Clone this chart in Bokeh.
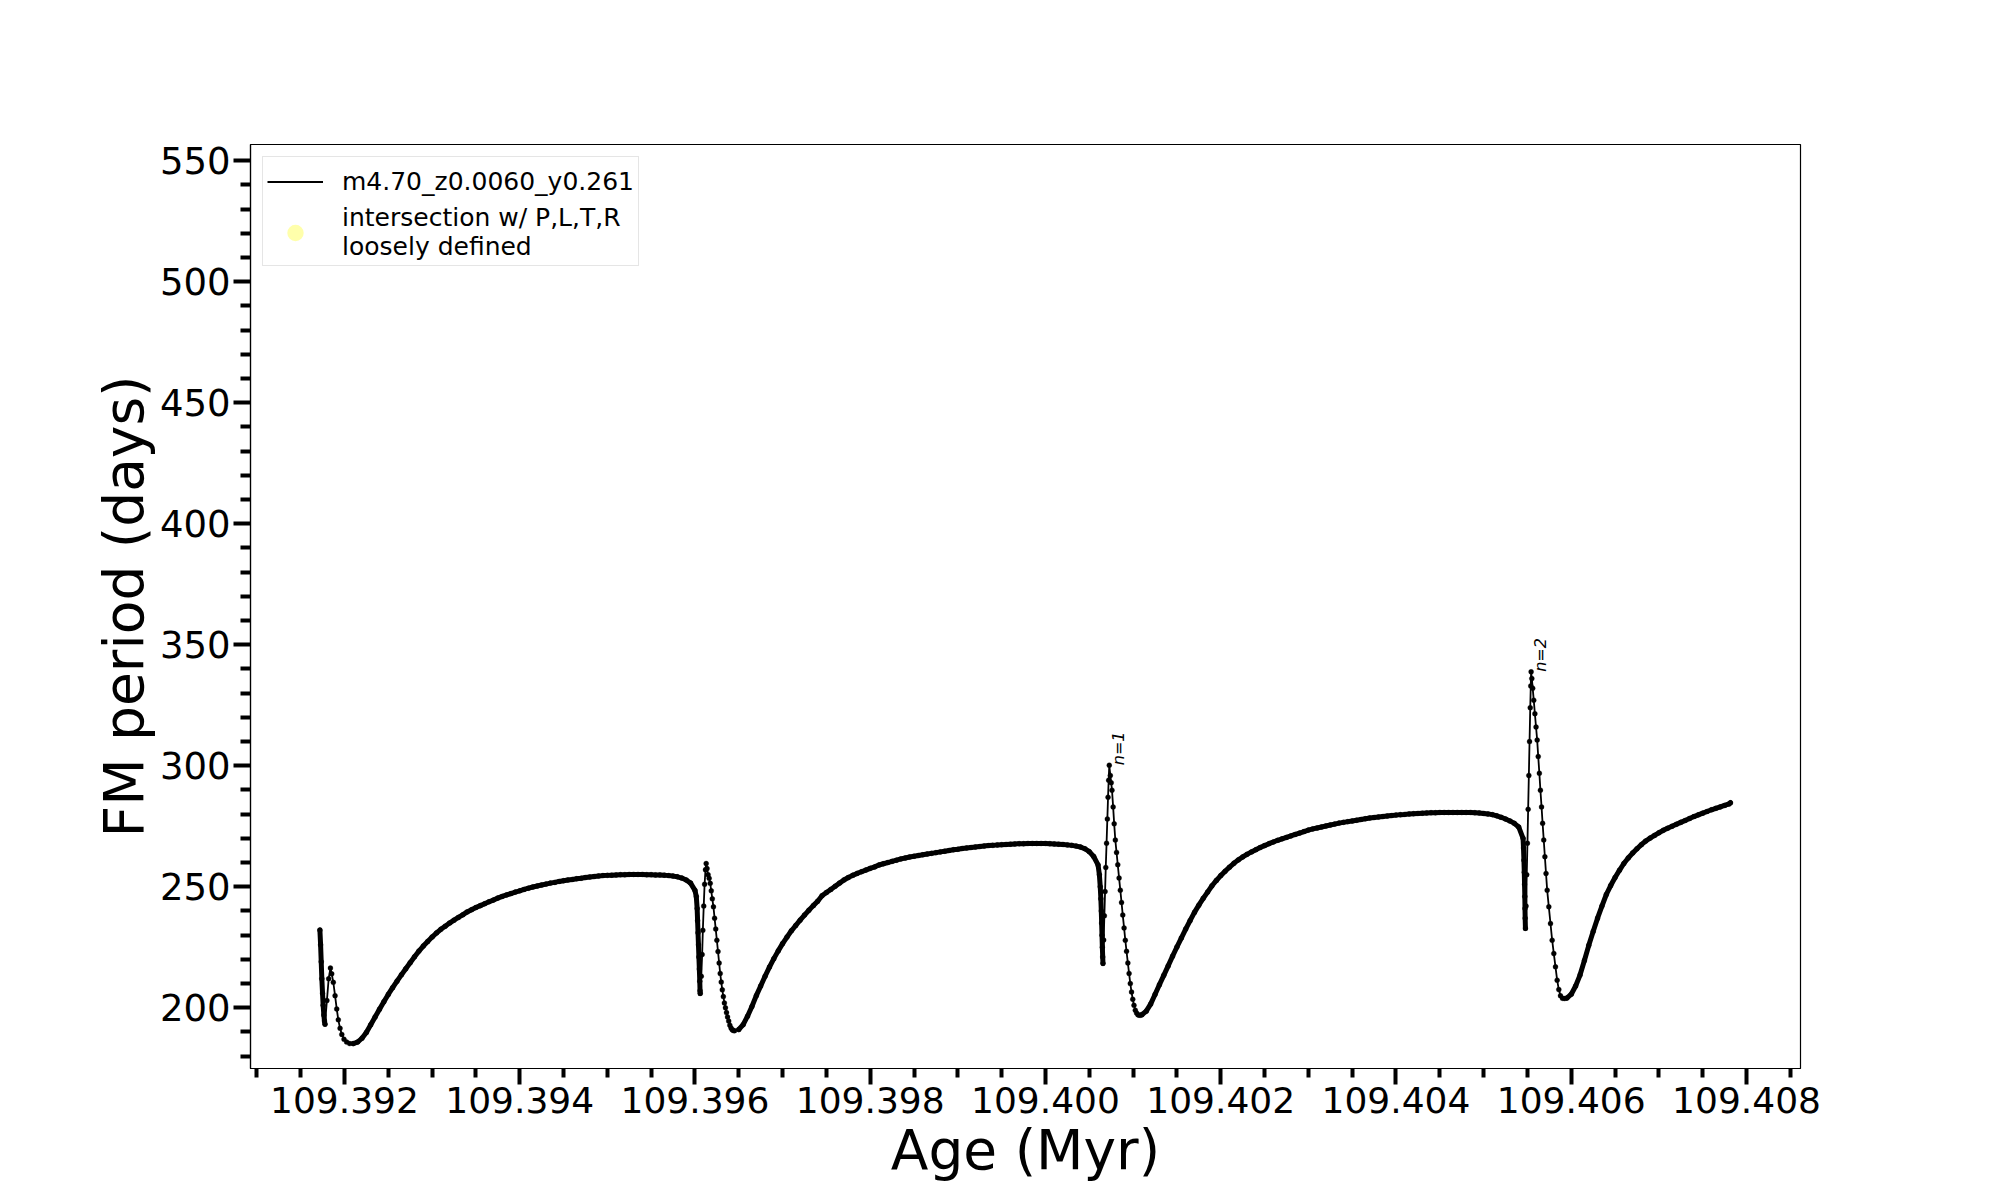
import math
from bokeh.plotting import figure
from bokeh.models import Range1d, FixedTicker, NumeralTickFormatter, Legend, LegendItem, ColumnDataSource
from bokeh.embed import file_html
from bokeh.resources import INLINE
from bokeh.core.properties import value

# ---------------- data: (age in Myr, FM period in days) ----------------
# quiescent (densely sampled) branches and fast pulse phases, in time order
branch_1 = [
    (109.391720, 232.1), (109.391728, 226.0), (109.391735, 219.0), (109.391742, 212.0), (109.391750, 206.0),
    (109.391757, 201.0), (109.391765, 197.0), (109.391772, 194.5), (109.391778, 193.2),
]
pulse_1 = [
    (109.391800, 203.0), (109.391820, 212.0), (109.391840, 216.4),
    (109.391855, 214.0), (109.391873, 210.5), (109.391893, 205.0), (109.391912, 199.5), (109.391930, 195.0),
    (109.391950, 191.5), (109.391970, 189.0), (109.391995, 187.0), (109.392025, 185.8), (109.392060, 185.2),
]
branch_2 = [
    (109.39210, 185.2), (109.39215, 185.8), (109.39220, 187.4), (109.39225, 189.8), (109.39230, 193.0),
    (109.39235, 196.2), (109.39240, 199.4), (109.39245, 202.5), (109.39250, 205.5), (109.39255, 208.3),
    (109.39260, 211.0), (109.39265, 213.6), (109.39270, 216.1), (109.39275, 218.6), (109.39280, 221.1),
    (109.39285, 223.4), (109.39290, 225.5), (109.39295, 227.4), (109.39300, 229.2), (109.39305, 230.9),
    (109.39310, 232.4), (109.39315, 233.7), (109.39320, 235.0), (109.39325, 236.2), (109.39330, 237.3),
    (109.39335, 238.4), (109.39340, 239.6), (109.39345, 240.5), (109.39350, 241.4), (109.39355, 242.2),
    (109.39360, 243.0), (109.39365, 243.8), (109.39370, 244.5), (109.39375, 245.3), (109.39380, 246.0),
    (109.39385, 246.6), (109.39390, 247.2), (109.39395, 247.8), (109.39400, 248.3), (109.39405, 248.9),
    (109.39410, 249.4), (109.39415, 249.9), (109.39420, 250.3), (109.39425, 250.7), (109.39430, 251.1),
    (109.39435, 251.5), (109.39440, 251.8), (109.39445, 252.2), (109.39450, 252.5), (109.39455, 252.8),
    (109.39460, 253.0), (109.39465, 253.3), (109.39470, 253.5), (109.39475, 253.8), (109.39480, 254.0),
    (109.39485, 254.2), (109.39490, 254.4), (109.39495, 254.6), (109.39500, 254.7), (109.39505, 254.8),
    (109.39510, 254.9), (109.39515, 255.0), (109.39520, 255.0), (109.39525, 255.1), (109.39530, 255.1),
    (109.39535, 255.1), (109.39540, 255.1), (109.39545, 255.0), (109.39550, 255.0), (109.39555, 254.9),
    (109.39560, 254.9), (109.39565, 254.8), (109.39570, 254.6), (109.39575, 254.4), (109.39580, 254.1),
    (109.39585, 253.6), (109.39590, 252.8), (109.39595, 251.5), (109.39600, 248.5),
    (109.396015, 246.0), (109.396025, 241.0), (109.396030, 236.0), (109.396035, 231.0), (109.396040, 226.0),
    (109.396045, 221.0), (109.396050, 216.0), (109.396055, 211.0), (109.396058, 207.0), (109.396060, 205.9),
]
pulse_2 = [
    (109.396072, 213.0), (109.396082, 222.0), (109.396090, 232.0), (109.396100, 242.0), (109.396110, 251.0),
    (109.396120, 257.0), (109.396128, 259.6),
    (109.396138, 257.5), (109.396150, 255.0), (109.396162, 253.5), (109.396174, 251.4), (109.396186, 248.3),
    (109.396198, 245.0), (109.396211, 241.7), (109.396224, 237.0), (109.396237, 232.5), (109.396250, 227.9),
    (109.396263, 223.2), (109.396276, 218.5), (109.396288, 214.2), (109.396300, 210.6), (109.396312, 207.4),
    (109.396324, 204.6), (109.396336, 202.0), (109.396348, 200.0), (109.396360, 198.0), (109.396372, 196.2),
    (109.396385, 194.5), (109.396398, 192.8), (109.396412, 191.6), (109.396425, 190.9), (109.396438, 190.6),
    (109.396451, 190.5),
]
branch_3 = [
    (109.39650, 191.0), (109.39655, 193.0), (109.39660, 196.5), (109.39665, 200.5), (109.39670, 205.0),
    (109.39675, 209.0), (109.39680, 213.0), (109.39685, 216.8), (109.39690, 220.3), (109.39695, 223.5),
    (109.39700, 226.5), (109.39705, 229.2), (109.39710, 231.8), (109.39715, 234.0), (109.39720, 236.2),
    (109.39725, 238.3), (109.39730, 240.3), (109.39735, 242.2), (109.39740, 244.0), (109.39745, 246.3),
    (109.39750, 247.6), (109.39755, 248.9), (109.39760, 250.2), (109.39765, 251.5), (109.39770, 252.8),
    (109.39775, 253.8), (109.39780, 254.7), (109.39785, 255.5), (109.39790, 256.2), (109.39795, 256.9),
    (109.39800, 257.6), (109.39805, 258.2), (109.39810, 259.0), (109.39815, 259.5), (109.39820, 260.0),
    (109.39825, 260.5), (109.39830, 261.0), (109.39835, 261.5), (109.39840, 261.9), (109.39845, 262.3),
    (109.39850, 262.6), (109.39855, 262.9), (109.39860, 263.2), (109.39865, 263.5), (109.39870, 263.8),
    (109.39875, 264.1), (109.39880, 264.4), (109.39885, 264.7), (109.39890, 265.0), (109.39895, 265.3),
    (109.39900, 265.5), (109.39905, 265.8), (109.39910, 266.0), (109.39915, 266.2), (109.39920, 266.4),
    (109.39925, 266.6), (109.39930, 266.8), (109.39935, 267.0), (109.39940, 267.1), (109.39945, 267.3),
    (109.39950, 267.4), (109.39955, 267.5), (109.39960, 267.6), (109.39965, 267.7), (109.39970, 267.8),
    (109.39975, 267.8), (109.39980, 267.9), (109.39985, 267.9), (109.39990, 267.9), (109.39995, 267.9),
    (109.40000, 267.9), (109.40005, 267.8), (109.40010, 267.7), (109.40015, 267.6), (109.40020, 267.5),
    (109.40025, 267.3), (109.40030, 267.1), (109.40035, 266.8), (109.40040, 266.4), (109.40045, 265.7),
    (109.40050, 264.5), (109.40055, 262.5), (109.40060, 259.0),
    (109.400615, 255.0), (109.400625, 250.0), (109.400632, 245.0), (109.400637, 240.0), (109.400641, 235.0),
    (109.400645, 230.0), (109.400649, 225.0), (109.400653, 221.0), (109.400656, 218.3),
]
pulse_3 = [
    (109.400664, 228.0), (109.400672, 238.0), (109.400680, 248.0), (109.400688, 258.0), (109.400697, 268.0),
    (109.400706, 278.0), (109.400714, 287.0), (109.400721, 294.0), (109.400728, 300.2),
    (109.400740, 296.0), (109.400750, 293.0), (109.400759, 289.9), (109.400772, 283.0), (109.400784, 276.0),
    (109.400797, 269.3), (109.400811, 264.2), (109.400825, 259.1), (109.400840, 253.6), (109.400854, 248.6),
    (109.400868, 243.5), (109.400882, 238.3), (109.400897, 233.0), (109.400911, 227.9), (109.400925, 223.3),
    (109.400940, 218.5), (109.400954, 214.2), (109.400968, 210.0), (109.400982, 206.5), (109.400996, 203.5),
    (109.401010, 201.0), (109.401025, 199.0), (109.401040, 197.8), (109.401055, 197.1), (109.401068, 196.9),
    (109.401082, 196.9),
]
branch_4 = [
    (109.40110, 197.1), (109.40115, 198.6), (109.40120, 201.5), (109.40125, 205.5), (109.40130, 209.5),
    (109.40135, 213.4), (109.40140, 217.3), (109.40145, 221.3), (109.40150, 225.1), (109.40155, 228.8),
    (109.40160, 232.5), (109.40165, 236.0), (109.40170, 239.4), (109.40175, 242.4), (109.40180, 245.2),
    (109.40185, 247.8), (109.40190, 250.4), (109.40195, 252.6), (109.40200, 254.6), (109.40205, 256.4),
    (109.40210, 258.1), (109.40215, 259.7), (109.40220, 261.1), (109.40225, 262.3), (109.40230, 263.4),
    (109.40235, 264.4), (109.40240, 265.3), (109.40245, 266.2), (109.40250, 267.0), (109.40255, 267.8),
    (109.40260, 268.5), (109.40265, 269.2), (109.40270, 269.8), (109.40275, 270.4), (109.40280, 271.0),
    (109.40285, 271.6), (109.40290, 272.2), (109.40295, 272.8), (109.40300, 273.4), (109.40305, 273.9),
    (109.40310, 274.3), (109.40315, 274.7), (109.40320, 275.1), (109.40325, 275.5), (109.40330, 275.9),
    (109.40335, 276.3), (109.40340, 276.6), (109.40345, 276.9), (109.40350, 277.2), (109.40355, 277.5),
    (109.40360, 277.8), (109.40365, 278.1), (109.40370, 278.4), (109.40375, 278.6), (109.40380, 278.8),
    (109.40385, 279.0), (109.40390, 279.2), (109.40395, 279.4), (109.40400, 279.6), (109.40405, 279.8),
    (109.40410, 279.9), (109.40415, 280.1), (109.40420, 280.2), (109.40425, 280.3), (109.40430, 280.4),
    (109.40435, 280.5), (109.40440, 280.6), (109.40445, 280.6), (109.40450, 280.7), (109.40455, 280.7),
    (109.40460, 280.7), (109.40465, 280.7), (109.40470, 280.7), (109.40475, 280.7), (109.40480, 280.7),
    (109.40485, 280.7), (109.40490, 280.6), (109.40495, 280.5), (109.40500, 280.3), (109.40505, 280.1),
    (109.40510, 279.8), (109.40515, 279.3), (109.40520, 278.7), (109.40525, 278.0), (109.40530, 277.2),
    (109.40535, 276.2), (109.40540, 274.7), (109.40545, 270.0),
    (109.405455, 266.0), (109.405460, 261.0), (109.405464, 256.0), (109.405467, 251.0), (109.405470, 246.0),
    (109.405472, 241.0), (109.405474, 237.0), (109.405477, 232.8),
]
pulse_4 = [
    (109.405484, 242.0), (109.405492, 255.0), (109.405500, 268.0), (109.405508, 282.0), (109.405516, 296.0),
    (109.405524, 310.0), (109.405532, 324.0), (109.405538, 333.0), (109.405542, 338.8),
    (109.405550, 336.0), (109.405560, 332.0), (109.405572, 327.1), (109.405585, 321.5), (109.405598, 316.0),
    (109.405611, 310.6), (109.405623, 303.8), (109.405636, 296.9), (109.405648, 289.9), (109.405661, 283.0),
    (109.405673, 276.2), (109.405686, 269.3), (109.405699, 262.4), (109.405712, 255.5), (109.405725, 248.6),
    (109.405744, 241.7), (109.405763, 234.8), (109.405782, 227.9), (109.405801, 222.4), (109.405820, 216.9),
    (109.405839, 211.4), (109.405858, 207.5), (109.405877, 205.0), (109.405900, 203.9), (109.405923, 203.8),
]
branch_5 = [
    (109.40595, 204.0), (109.40600, 205.6), (109.40605, 209.0), (109.40610, 213.5), (109.40615, 219.5),
    (109.40620, 225.8), (109.40625, 231.5), (109.40630, 237.0), (109.40635, 242.0), (109.40640, 246.8),
    (109.40645, 250.5), (109.40650, 253.8), (109.40655, 256.8), (109.40660, 259.6), (109.40665, 261.9),
    (109.40670, 263.9), (109.40675, 265.7), (109.40680, 267.4), (109.40685, 268.9), (109.40690, 270.1),
    (109.40695, 271.2), (109.40700, 272.3), (109.40705, 273.3), (109.40710, 274.2), (109.40715, 275.0),
    (109.40720, 275.8), (109.40725, 276.6), (109.40730, 277.4), (109.40735, 278.2), (109.40740, 279.0),
    (109.40745, 279.7), (109.40750, 280.4), (109.40755, 281.1), (109.40760, 281.8), (109.40765, 282.4),
    (109.40770, 283.0), (109.40775, 283.6), (109.40780, 284.2), (109.407817, 284.7),
]

# intersection points: none fall inside this window (NaN = nothing drawn, legend only)
intersection_age = [float("nan")]
intersection_fm = [float("nan")]

# pulse annotations
pulse_age = [109.400728, 109.405542]
pulse_fm = [300.2, 338.8]
pulse_label = ["n=1", "n=2"]

series_label = "m4.70_z0.0060_y0.261"
intersection_label = "intersection w/ P,L,T,R\nloosely defined"

x_major_ticks = [109.392, 109.394, 109.396, 109.398, 109.400, 109.402, 109.404, 109.406, 109.408]
x_minor_ticks = [109.391, 109.3915, 109.3925, 109.393, 109.3935, 109.3945, 109.395, 109.3955,
                 109.3965, 109.397, 109.3975, 109.3985, 109.399, 109.3995, 109.4005, 109.401,
                 109.4015, 109.4025, 109.403, 109.4035, 109.4045, 109.405, 109.4055, 109.4065,
                 109.407, 109.4075, 109.4085]
y_major_ticks = [200, 250, 300, 350, 400, 450, 500, 550]
y_minor_ticks = [180, 190, 210, 220, 230, 240, 260, 270, 280, 290, 310, 320, 330, 340,
                 360, 370, 380, 390, 410, 420, 430, 440, 460, 470, 480, 490, 510, 520,
                 530, 540]

# ---------------- figure ----------------
branches = [branch_1, branch_2, branch_3, branch_4, branch_5]
points = (branch_1 + pulse_1 + branch_2 + pulse_2 + branch_3 + pulse_3 +
          branch_4 + pulse_4 + branch_5)
age = [a for a, _ in points]
fm = [f for _, f in points]

FONT = "DejaVu Sans"

p = figure(width=2000, height=1200, output_backend="svg", toolbar_location=None,
           x_range=Range1d(109.390928, 109.408616), y_range=Range1d(174.9, 556.7),
           min_border_left=250, min_border_right=200, min_border_top=144, min_border_bottom=132,
           background_fill_color="white", border_fill_color="white")
p.grid.visible = False
p.outline_line_color = "black"
p.outline_line_width = 1.2

p.xaxis.ticker = FixedTicker(ticks=x_major_ticks, minor_ticks=x_minor_ticks)
p.yaxis.ticker = FixedTicker(ticks=y_major_ticks, minor_ticks=y_minor_ticks)
p.xaxis.formatter = NumeralTickFormatter(format="0.000")

for ax in (p.xaxis, p.yaxis):
    ax.axis_line_color = "black"
    ax.axis_line_width = 1.2
    ax.major_tick_line_color = "black"
    ax.minor_tick_line_color = "black"
    ax.major_tick_line_width = 4
    ax.minor_tick_line_width = 4
    ax.major_tick_in = 0
    ax.minor_tick_in = 0
    ax.major_label_text_font = FONT
    ax.major_label_text_color = "black"
    ax.axis_label_text_font = FONT
    ax.axis_label_text_font_size = "55px"
    ax.axis_label_text_font_style = "normal"
    ax.axis_label_text_color = "black"

p.xaxis.major_label_text_font_size = "36px"
p.yaxis.major_label_text_font_size = "37px"
p.xaxis.major_tick_out = 16
p.xaxis.minor_tick_out = 9
p.yaxis.major_tick_out = 17
p.yaxis.minor_tick_out = 10
p.xaxis.major_label_standoff = 2
p.yaxis.major_label_standoff = 3
p.xaxis.axis_label_standoff = 2
p.yaxis.axis_label_standoff = 1
p.xaxis.axis_label = "Age (Myr)"
p.yaxis.axis_label = "FM period (days)"

# densely sampled quiescent branches render as a heavy band
for br in branches:
    p.line([a for a, _ in br], [f for _, f in br], line_color="black", line_width=5,
           line_join="round", line_cap="round")

line_r = p.line(age, fm, line_color="black", line_width=1.8)
p.scatter(age, fm, size=5, fill_color="black", line_color="black", line_width=0.3)

inter_src = ColumnDataSource(data=dict(x=intersection_age, y=intersection_fm))
inter_r = p.scatter("x", "y", source=inter_src, size=16, fill_color="yellow", fill_alpha=0.33,
                    line_color=None)

p.text(x=pulse_age, y=pulse_fm, text=pulse_label, angle=math.pi / 2,
       text_align="left", text_baseline="top", text_font=value(FONT),
       text_font_size="16px", text_font_style="italic", text_color="black")

legend = Legend(items=[LegendItem(label=series_label, renderers=[line_r]),
                       LegendItem(label=intersection_label, renderers=[inter_r])],
                location="top_left")
legend.margin = 12
legend.padding = 4
legend.spacing = 1
legend.glyph_width = 56
legend.glyph_height = 41
legend.label_standoff = 19
legend.label_text_font = FONT
legend.label_text_font_size = "25px"
legend.label_text_color = "black"
legend.border_line_color = "#cccccc"
legend.border_line_width = 1
legend.background_fill_color = "white"
legend.background_fill_alpha = 0.8
p.add_layout(legend)

open("out.html", "w").write(file_html(p, INLINE))
